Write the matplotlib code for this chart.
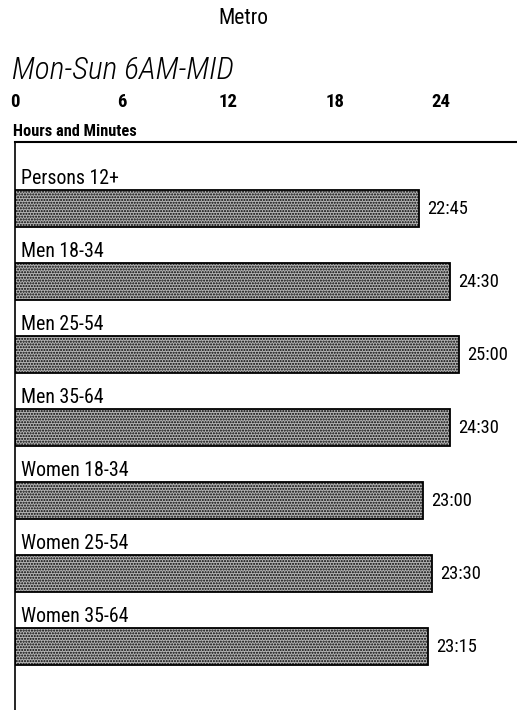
import matplotlib
matplotlib.use("Agg")
import matplotlib.pyplot as plt

# Data: weekly time spent listening, in hours
groups = ["Persons 12+", "Men 18-34", "Men 25-54", "Men 35-64",
          "Women 18-34", "Women 25-54", "Women 35-64"]
hours = [22.75, 24.5, 25.0, 24.5, 23.0, 23.5, 23.25]
ticks = [0, 6, 12, 18, 24]

plt.rcParams["font.family"] = ["Roboto Condensed", "DejaVu Sans"]
plt.rcParams["hatch.color"] = "#8a8a8a"


def hm(h):
    m = int(round(h * 60))
    return f"{m // 60}:{m % 60:02d}"


fig = plt.figure(figsize=(5.17, 7.10), dpi=100)
fig.text(243 / 517, 1 - 18 / 710, "Metro", ha="center", va="center", fontsize=15.5)
fig.text(12 / 517, 1 - 70 / 710, "Mon-Sun 6AM-MID", ha="left", va="center",
         fontsize=22.6, style="italic", fontweight="light")
fig.text(13 / 517, 1 - 131 / 710, "Hours and Minutes", ha="left", va="center",
         fontsize=11.8, fontweight="bold")

ax = fig.add_axes([15 / 517, 0, 502 / 517, 568 / 710])
pitch = 73.0
top = 66 / pitch
ax.set_xlim(0, 502 / 17.76)
ax.set_ylim(568 / pitch - top, -top)

ypos = list(range(len(groups)))
ax.barh(ypos, hours, height=37 / pitch, color="#b4b4b4", edgecolor="black",
        linewidth=1.3, hatch="......")

for y, g, h in zip(ypos, groups, hours):
    ax.text(0.35, y - 0.41, g, ha="left", va="center", fontsize=14.3)
    ax.text(h + 0.45, y + 0.02, hm(h), ha="left", va="center", fontsize=13.3)

ax.xaxis.tick_top()
ax.set_xticks(ticks)
ax.set_xticklabels([str(t) for t in ticks], fontsize=13.5, fontweight="bold")
ax.tick_params(axis="x", length=0, pad=22)
ax.set_yticks([])
for s in ["right", "bottom"]:
    ax.spines[s].set_visible(False)
ax.spines["left"].set_linewidth(1.2)
ax.spines["top"].set_linewidth(1.5)

fig.savefig("out.png", dpi=100)
